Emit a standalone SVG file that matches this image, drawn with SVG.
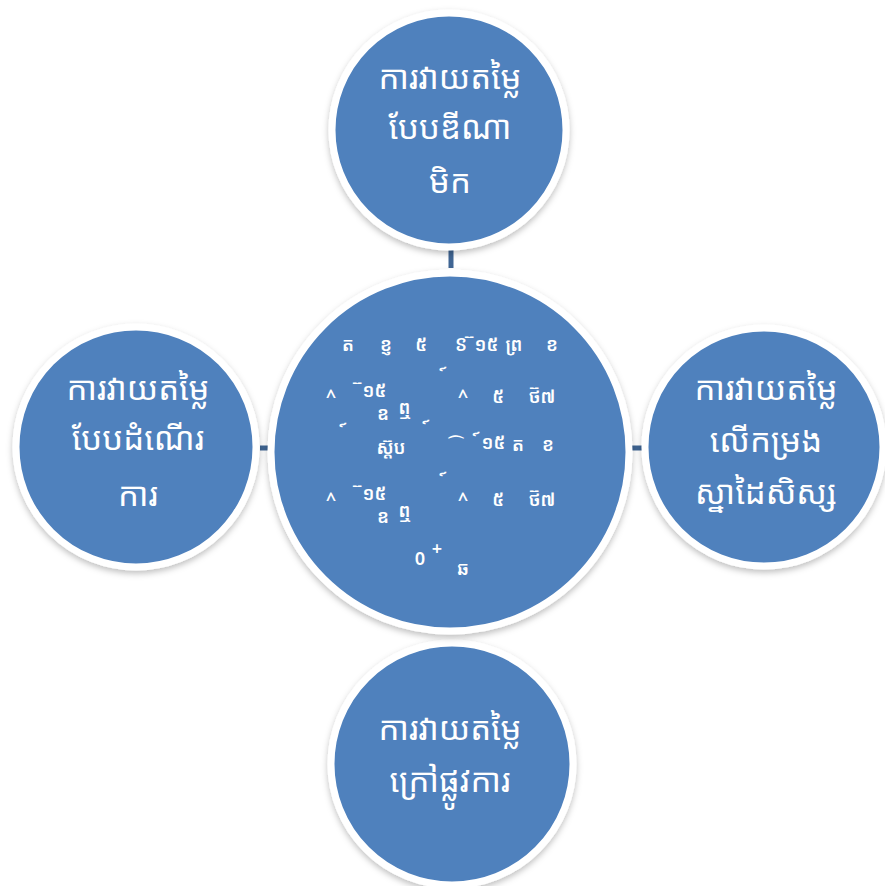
<svg xmlns="http://www.w3.org/2000/svg" width="885" height="886" viewBox="0 0 885 886">
<defs>
<style>
.node circle{fill:#4F81BD;stroke:#FFFFFF;stroke-width:7;filter:url(#sh)}
.lbl{font-family:"Noto Sans Khmer","Khmer OS","Khmer OS System","Noto Sans","DejaVu Sans",sans-serif;font-size:33px;font-weight:400;fill:#FFFFFF;text-anchor:middle}
.g{font-family:"Noto Sans Khmer","Khmer OS","Noto Sans","DejaVu Sans",sans-serif;font-size:18px;font-weight:600;fill:#FFFFFF;text-anchor:middle}
.conn line{stroke:#3F6593;stroke-width:5}
</style>
<filter id="sh" x="-10%" y="-10%" width="120%" height="125%">
<feDropShadow dx="0" dy="3" stdDeviation="3" flood-color="#000000" flood-opacity="0.25"/>
</filter>
</defs>
<rect width="885" height="886" fill="#FFFFFF"/>
<g id="connectors" class="conn">
<line x1="451" y1="250" x2="451" y2="268"/>
<line x1="260" y1="448" x2="272" y2="448"/>
<line x1="630" y1="448" x2="643" y2="448"/>
</g>
<g id="node-top" class="node">
<circle cx="449" cy="130" r="117"/>
<text class="lbl" x="450" y="89">ការវាយតម្លៃ</text>
<text class="lbl" x="450" y="139">បែបឌីណា</text>
<text class="lbl" x="450" y="193">មិក</text>
</g>
<g id="node-left" class="node">
<circle cx="136" cy="447" r="120"/>
<text class="lbl" x="138" y="400">ការវាយតម្លៃ</text>
<text class="lbl" x="138" y="450">បែបដំណើរ</text>
<text class="lbl" x="138" y="506">ការ</text>
</g>
<g id="node-right" class="node">
<circle cx="764" cy="447" r="119"/>
<text class="lbl" x="766" y="400">ការវាយតម្លៃ</text>
<text class="lbl" x="766" y="452">លើកម្រង</text>
<text class="lbl" x="766" y="504">ស្នាដៃសិស្ស</text>
</g>
<g id="node-bottom" class="node">
<circle cx="452" cy="764" r="121"/>
<text class="lbl" x="450" y="740">ការវាយតម្លៃ</text>
<text class="lbl" x="450" y="792">ក្រៅផ្លូវការ</text>
</g>
<g id="node-center" class="node">
<circle cx="450" cy="452" r="179"/>
<text class="g" x="348" y="351">ត</text>
<text class="g" x="386" y="351">ខ្ញ</text>
<text class="g" x="421" y="351">៥</text>
<text class="g" x="461" y="351">ៜ</text>
<text class="g" x="484" y="351">&#160;៊១៥</text>
<text class="g" x="514" y="351">ព្រ</text>
<text class="g" x="552" y="351">ខ</text>
<text class="g" x="446" y="384">&#160;៍</text>
<text class="g" x="331" y="403">^</text>
<text class="g" x="372" y="397">&#160;៊១៥</text>
<text class="g" x="383" y="420">ឧ</text>
<text class="g" x="405" y="414">ឮ</text>
<text class="g" x="463" y="403">^</text>
<text class="g" x="498" y="403">៥</text>
<text class="g" x="542" y="403">ថ៊៧</text>
<text class="g" x="346" y="440">&#160;៍</text>
<text class="g" x="391" y="454">ស្ត៊ប</text>
<text class="g" x="429" y="437">&#160;៍</text>
<text class="g" x="456" y="450">⌒</text>
<text class="g" x="491" y="449">&#160;៍១៥</text>
<text class="g" x="518" y="451">ត</text>
<text class="g" x="548" y="451">ខ</text>
<text class="g" x="446" y="489">&#160;៍</text>
<text class="g" x="331" y="506">^</text>
<text class="g" x="372" y="500">&#160;៊១៥</text>
<text class="g" x="383" y="523">ឧ</text>
<text class="g" x="405" y="517">ឮ</text>
<text class="g" x="463" y="506">^</text>
<text class="g" x="498" y="506">៥</text>
<text class="g" x="542" y="506">ថ៊៧</text>
<text class="g" x="420" y="565">0</text>
<text class="g" x="437" y="555">+</text>
<text class="g" x="463" y="575">ឆ</text>
</g>
</svg>
